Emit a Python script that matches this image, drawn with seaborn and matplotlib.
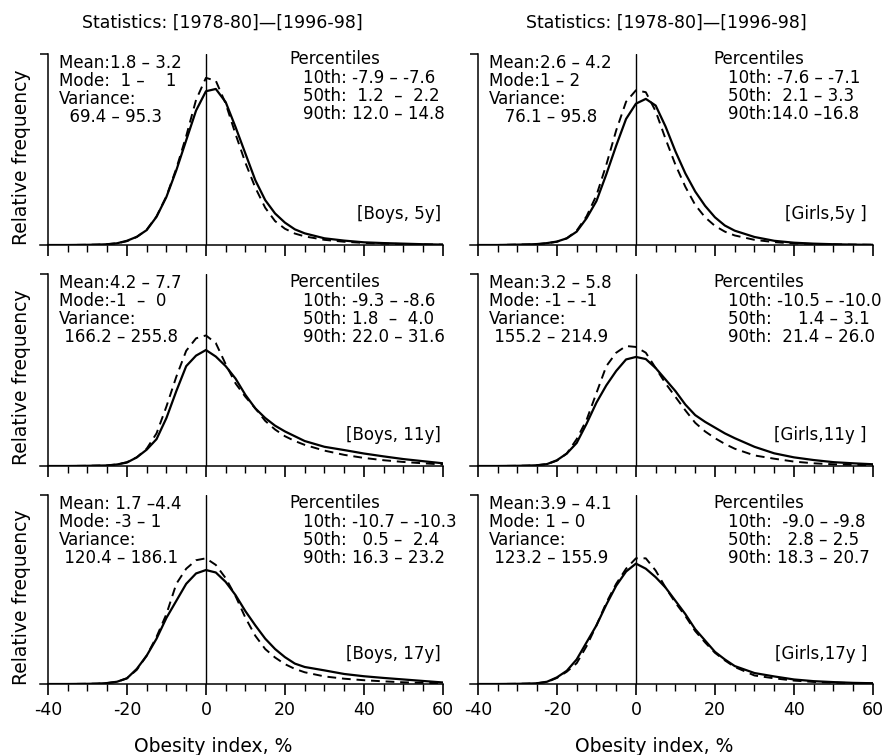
import numpy as np
import pandas as pd
import matplotlib
matplotlib.use("Agg")
import matplotlib.pyplot as plt
import seaborn as sns
from matplotlib.ticker import MultipleLocator

x_grid = [-40, -35, -30, -27.5, -25, -22.5, -20, -17.5, -15, -12.5, -10, -7.5, -5, -2.5,
          0, 2.5, 5, 7.5, 10, 12.5, 15, 17.5, 20, 22.5, 25, 30, 35, 40, 45, 50, 55, 60]

# relative frequency, solid = 1996-98, dashed = 1978-80
boys5_new = [0, 0, 0.001, 0.002, 0.004, 0.009, 0.022, 0.043, 0.078, 0.148, 0.252, 0.391, 0.548, 0.704,
             0.805, 0.817, 0.748, 0.617, 0.478, 0.339, 0.235, 0.165, 0.117, 0.082, 0.061, 0.035, 0.023,
             0.014, 0.010, 0.007, 0.004, 0.002]
boys5_old = [0, 0, 0.001, 0.002, 0.004, 0.009, 0.020, 0.042, 0.080, 0.150, 0.255, 0.400, 0.570, 0.760,
             0.875, 0.860, 0.740, 0.580, 0.430, 0.300, 0.195, 0.125, 0.085, 0.060, 0.045, 0.027, 0.017,
             0.011, 0.007, 0.005, 0.003, 0.002]
girls5_new = [0, 0, 0.002, 0.003, 0.005, 0.010, 0.018, 0.035, 0.070, 0.140, 0.230, 0.370, 0.520, 0.660,
              0.740, 0.765, 0.730, 0.620, 0.490, 0.375, 0.280, 0.205, 0.145, 0.102, 0.075, 0.042, 0.022,
              0.012, 0.007, 0.004, 0.002, 0.001]
girls5_old = [0, 0, 0.002, 0.003, 0.004, 0.009, 0.017, 0.035, 0.075, 0.150, 0.260, 0.420, 0.600, 0.750,
              0.810, 0.800, 0.700, 0.555, 0.420, 0.305, 0.210, 0.145, 0.100, 0.070, 0.050, 0.027, 0.015,
              0.008, 0.005, 0.003, 0.002, 0.001]
boys11_new = [0, 0, 0.001, 0.002, 0.003, 0.008, 0.018, 0.045, 0.085, 0.140, 0.250, 0.390, 0.520, 0.575,
              0.604, 0.570, 0.520, 0.455, 0.370, 0.300, 0.250, 0.210, 0.180, 0.155, 0.130, 0.100, 0.083,
              0.065, 0.050, 0.036, 0.025, 0.014]
boys11_old = [0, 0, 0.001, 0.002, 0.003, 0.008, 0.020, 0.045, 0.090, 0.170, 0.310, 0.465, 0.600, 0.665,
              0.680, 0.640, 0.530, 0.430, 0.360, 0.300, 0.235, 0.190, 0.155, 0.130, 0.110, 0.080, 0.058,
              0.042, 0.030, 0.021, 0.014, 0.008]
girls11_new = [0, 0, 0.001, 0.002, 0.004, 0.010, 0.030, 0.065, 0.120, 0.220, 0.330, 0.420, 0.495, 0.555,
               0.568, 0.557, 0.510, 0.450, 0.390, 0.320, 0.265, 0.230, 0.200, 0.170, 0.145, 0.100, 0.066,
               0.045, 0.031, 0.020, 0.014, 0.009]
girls11_old = [0, 0, 0.001, 0.002, 0.004, 0.010, 0.028, 0.065, 0.140, 0.240, 0.380, 0.520, 0.590, 0.625,
               0.620, 0.590, 0.510, 0.430, 0.360, 0.290, 0.225, 0.180, 0.145, 0.115, 0.090, 0.055, 0.038,
               0.023, 0.014, 0.009, 0.006, 0.004]
boys17_new = [0, 0, 0.001, 0.002, 0.005, 0.012, 0.030, 0.080, 0.150, 0.240, 0.350, 0.440, 0.530, 0.585,
              0.603, 0.590, 0.540, 0.470, 0.385, 0.310, 0.240, 0.185, 0.142, 0.108, 0.090, 0.072, 0.053,
              0.041, 0.032, 0.024, 0.016, 0.008]
boys17_old = [0, 0, 0.001, 0.002, 0.005, 0.012, 0.030, 0.075, 0.150, 0.250, 0.370, 0.530, 0.610, 0.655,
              0.665, 0.630, 0.560, 0.465, 0.350, 0.255, 0.185, 0.140, 0.105, 0.080, 0.062, 0.040, 0.028,
              0.020, 0.014, 0.009, 0.006, 0.004]
girls17_new = [0, 0, 0.001, 0.002, 0.004, 0.012, 0.035, 0.070, 0.130, 0.220, 0.310, 0.420, 0.520, 0.595,
               0.637, 0.610, 0.565, 0.510, 0.440, 0.370, 0.290, 0.230, 0.170, 0.130, 0.095, 0.058, 0.040,
               0.024, 0.015, 0.010, 0.006, 0.004]
girls17_old = [0, 0, 0.001, 0.002, 0.004, 0.011, 0.032, 0.065, 0.110, 0.200, 0.310, 0.430, 0.530, 0.610,
               0.665, 0.665, 0.600, 0.510, 0.430, 0.360, 0.280, 0.220, 0.165, 0.125, 0.090, 0.045, 0.030,
               0.018, 0.011, 0.007, 0.005, 0.003]

panel_tags = ["[Boys, 5y]", "[Girls,5y ]", "[Boys, 11y]", "[Girls,11y ]", "[Boys, 17y]", "[Girls,17y ]"]

left_notes = [
    ["Mean:1.8 \u2013 3.2", "Mode:  1 \u2013    1", "Variance:", "  69.4 \u2013 95.3"],
    ["Mean:2.6 \u2013 4.2", "Mode:1 \u2013 2", "Variance:", "   76.1 \u2013 95.8"],
    ["Mean:4.2 \u2013 7.7", "Mode:-1  \u2013  0", "Variance:", " 166.2 \u2013 255.8"],
    ["Mean:3.2 \u2013 5.8", "Mode: -1 \u2013 -1", "Variance:", " 155.2 \u2013 214.9"],
    ["Mean: 1.7 \u20134.4", "Mode: -3 \u2013 1", "Variance:", " 120.4 \u2013 186.1"],
    ["Mean:3.9 \u2013 4.1", "Mode: 1 \u2013 0", "Variance:", " 123.2 \u2013 155.9"],
]
pct_notes = [
    ["10th: -7.9 \u2013 -7.6", "50th:  1.2  \u2013  2.2", "90th: 12.0 \u2013 14.8"],
    ["10th: -7.6 \u2013 -7.1", "50th:  2.1 \u2013 3.3", "90th:14.0 \u201316.8"],
    ["10th: -9.3 \u2013 -8.6", "50th: 1.8  \u2013  4.0", "90th: 22.0 \u2013 31.6"],
    ["10th: -10.5 \u2013 -10.0", "50th:     1.4 \u2013 3.1", "90th:  21.4 \u2013 26.0"],
    ["10th: -10.7 \u2013 -10.3", "50th:   0.5 \u2013  2.4", "90th: 16.3 \u2013 23.2"],
    ["10th:  -9.0 \u2013 -9.8", "50th:   2.8 \u2013 2.5", "90th: 18.3 \u2013 20.7"],
]

curves = [(boys5_new, boys5_old), (girls5_new, girls5_old),
          (boys11_new, boys11_old), (girls11_new, girls11_old),
          (boys17_new, boys17_old), (girls17_new, girls17_old)]

sns.set_style("ticks")
plt.rcParams['font.family'] = ['DejaVu Sans']
plt.rcParams['axes.unicode_minus'] = False
plt.rcParams['text.color'] = 'black'
plt.rcParams['axes.labelcolor'] = 'black'
plt.rcParams['axes.edgecolor'] = 'black'
plt.rcParams['xtick.color'] = 'black'
plt.rcParams['ytick.color'] = 'black'

fig = plt.figure(figsize=(8.89, 7.55), dpi=100)
W, H = 889, 755
col_left = [40, 470]
col_width = 403
row_bottom = [245, 466, 684]
row_top = [54, 274, 495]

PX = 0.72  # points per pixel at 100 dpi


def put_lines(ax, x, top_px, lines, dy=18):
    for i, s in enumerate(lines):
        ax.annotate(s, xy=(x, 1), xycoords='axes fraction',
                    xytext=(0, -(top_px + i * dy) * PX), textcoords='offset points',
                    ha='left', va='baseline', fontsize=12, color='black')


for k in range(6):
    r, c = divmod(k, 2)
    h = row_bottom[r] - row_top[r]
    ax = fig.add_axes([col_left[c] / W, (H - row_bottom[r]) / H, col_width / W, h / H])
    new, old = curves[k]
    df = pd.DataFrame({'x': x_grid + x_grid, 'y': new + old,
                       'period': ['1996-98'] * len(x_grid) + ['1978-80'] * len(x_grid)})
    sns.lineplot(data=df[df.period == '1996-98'], x='x', y='y', color='black', linewidth=1.6, ax=ax)
    sns.lineplot(data=df[df.period == '1978-80'], x='x', y='y', color='black', linewidth=1.4,
                 linestyle=(0, (4.5, 3)), ax=ax)
    ax.axvline(0, color='black', linewidth=1.0)

    ax.set_xlim(-42, 60)
    ax.set_ylim(0, 1)
    ax.spines['top'].set_visible(False)
    ax.spines['right'].set_visible(False)
    ax.spines['left'].set_position(('data', -40))
    ax.spines['left'].set_linewidth(1.1)
    ax.spines['bottom'].set_linewidth(1.1)
    ax.xaxis.set_major_locator(MultipleLocator(20))
    ax.xaxis.set_minor_locator(MultipleLocator(5))
    ax.set_xticks([-40, -20, 0, 20, 40, 60])
    ax.tick_params(axis='x', which='major', length=8, width=1.2, direction='out',
                   labelsize=12.5, pad=4, colors='black')
    ax.tick_params(axis='x', which='minor', length=5, width=1.0, direction='out', colors='black')
    ax.set_yticks([1])
    ax.tick_params(axis='y', length=6, width=1.1, direction='out', labelleft=False)
    ax.set_ylabel('')
    ax.set_xlabel('')

    if r < 2:
        ax.tick_params(axis='x', labelbottom=False)
    else:
        ax.set_xlabel('Obesity index, %', fontsize=13.5)
        ax.xaxis.set_label_coords(0.43 if c == 0 else 0.458, -0.28)

    if c == 0:
        ax.set_ylabel('Relative frequency', fontsize=13.5)
        ax.yaxis.set_label_coords(-0.022, 0.46)

    put_lines(ax, 0.046, 14, left_notes[k])
    put_lines(ax, 0.62 if c == 0 else 0.604, 10 if r == 0 else 13, ["Percentiles"])
    put_lines(ax, 0.652 if c == 0 else 0.64, 29 if r == 0 else 32, pct_notes[k])
    ax.text(0.995 if c == 0 else 0.985, 0.16, panel_tags[k], transform=ax.transAxes,
            ha='right', va='center', fontsize=12)

title = "Statistics: [1978-80]\u2014[1996-98]"
fig.text(222 / W, 1 - 23 / H, title, ha='center', va='center', fontsize=12.5)
fig.text(666 / W, 1 - 23 / H, title, ha='center', va='center', fontsize=12.5)

fig.savefig("out.png", dpi=100, facecolor='white')
